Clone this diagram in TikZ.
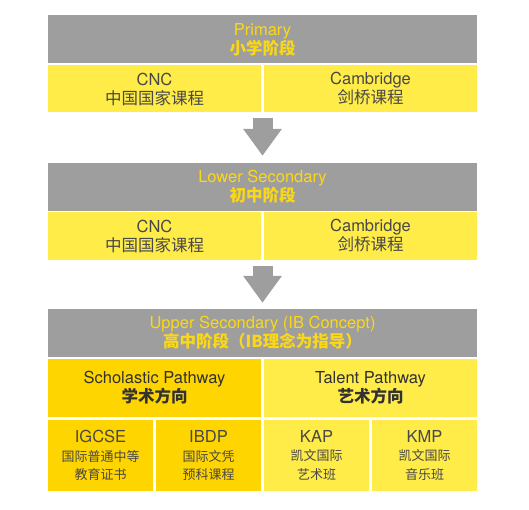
\documentclass[tikz,border=0pt]{standalone}
\usepackage{fontspec}
\setmainfont{TeX Gyre Heros}
\newfontfamily\cjk{Noto Sans CJK SC}
\usepackage{tikz}
\usetikzlibrary{%
  positioning,%
  arrows.meta%
}
\definecolor{bandgrey}{RGB}{158,158,158}
\definecolor{titleyellow}{RGB}{252,216,20}
\definecolor{lightyellow}{RGB}{255,236,72}
\definecolor{deepyellow}{RGB}{255,213,0}
\definecolor{textgrey}{RGB}{72,72,72}
\definecolor{darkgrey}{RGB}{50,50,50}
\newcommand{\zh}[1]{{\cjk #1}}
\newcommand{\prog}[3]{{\fontsize{16.5}{18.5}\selectfont #1}\\\zh{#2}\\\zh{#3}}

\begin{document}
\begin{tikzpicture}[x=1pt, y=-1pt,
  every node/.style={inner sep=0pt, align=center},
  stage/.style={fill=bandgrey, text=titleyellow, minimum width=429pt, minimum height=48pt, font=\fontsize{16.5}{19}\selectfont},
  course/.style={fill=lightyellow, text=textgrey, minimum width=213pt, minimum height=47pt, font=\fontsize{16.5}{19}\selectfont},
  pathway/.style={course, text=darkgrey, minimum height=58pt},
  program/.style={fill=lightyellow, text=textgrey, minimum width=105pt, minimum height=71pt, font=\fontsize{13}{18.5}\selectfont},
  flow/.style={draw=bandgrey, line width=20pt, -{Triangle[width=37pt,length=27pt]}}
]
\useasboundingbox (0,0) rectangle (529,510);

\node[stage] (prim) at (262.5,39.5) {Primary\\\zh{\bfseries 小学阶段}};
\node[course] (primCNC) at (154.5,89) {CNC\\\zh{中国国家课程}};
\node[course] (primCam) at (370.5,89) {Cambridge\\\zh{剑桥课程}};
\coordinate (arrA) at (262.5,118);

\node[stage] (lower) at (262.5,187) {Lower Secondary\\\zh{\bfseries 初中阶段}};
\node[course] (lowCNC) at (154.5,236) {CNC\\\zh{中国国家课程}};
\node[course] (lowCam) at (370.5,236) {Cambridge\\\zh{剑桥课程}};
\coordinate (arrB) at (262.5,266);

\node[stage] (upper) at (262.5,333) {Upper Secondary (IB Concept)\\\zh{\bfseries 高中阶段（IB理念为指导）}};
\node[pathway, fill=deepyellow] (schol) at (154.5,388) {Scholastic Pathway\\\zh{\bfseries 学术方向}};
\node[pathway] (talent) at (370.5,388) {Talent Pathway\\\zh{\bfseries 艺术方向}};

\node[program, fill=deepyellow] (igcse) at (100.5,455.5) {\prog{IGCSE}{国际普通中等}{教育证书}};
\node[program, fill=deepyellow] (ibdp) at (208.5,455.5) {\prog{IBDP}{国际文凭}{预科课程}};
\node[program] (kap) at (316.5,455.5) {\prog{KAP}{凯文国际}{艺术班}};
\node[program] (kmp) at (424.5,455.5) {\prog{KMP}{凯文国际}{音乐班}};

\draw[flow] (arrA) -- ([yshift=7pt]lower.north);
\draw[flow] (arrB) -- ([yshift=6pt]upper.north);
\end{tikzpicture}
\end{document}
